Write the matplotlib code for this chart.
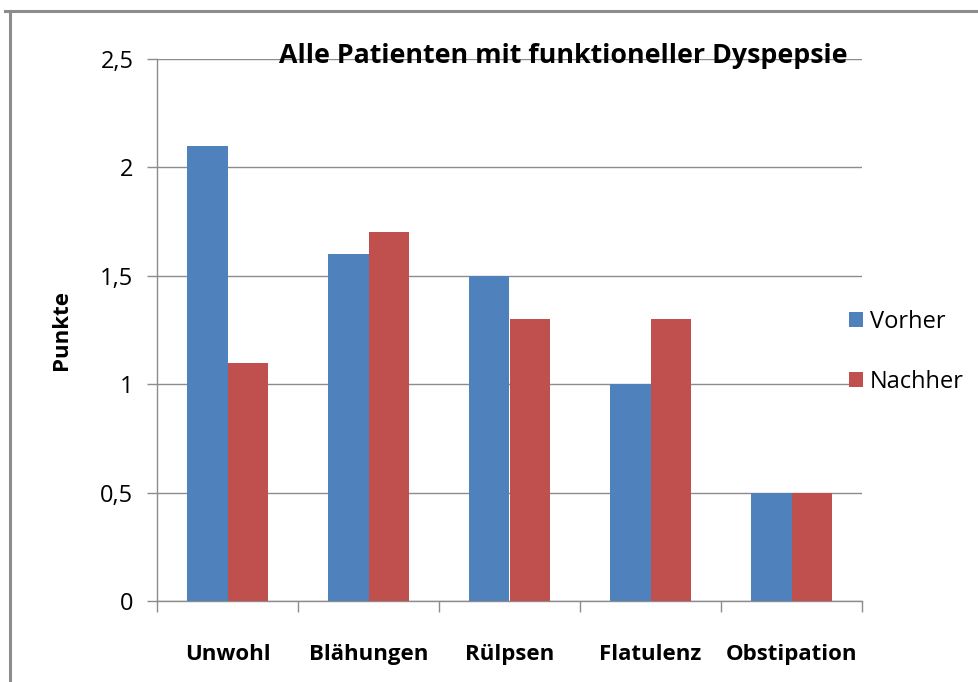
import numpy as np
import matplotlib.pyplot as plt
from matplotlib.lines import Line2D

plt.rcParams['font.family'] = ['Open Sans', 'DejaVu Sans']

categories = ["Unwohl", "Blähungen", "Rülpsen", "Flatulenz", "Obstipation"]
vorher = [2.1, 1.6, 1.5, 1.0, 0.5]
nachher = [1.1, 1.7, 1.3, 1.3, 0.5]
yticks = [0, 0.5, 1, 1.5, 2, 2.5]
ytick_labels = ["0", "0,5", "1", "1,5", "2", "2,5"]

W, H = 979, 682
fig = plt.figure(figsize=(W / 100, H / 100), dpi=100)

# plot area in pixel coordinates of the reference
left, right, top, bottom = 157, 862, 59, 601
ax = fig.add_axes([left / W, 1 - bottom / H, (right - left) / W, (bottom - top) / H])

x = np.arange(len(categories))
bw = 0.285
ax.bar(x - bw / 2, vorher, bw, color="#4F81BD", label="Vorher", zorder=3)
ax.bar(x + bw / 2, nachher, bw, color="#C0504D", label="Nachher", zorder=3)

ax.set_xlim(-0.5, len(categories) - 0.5)
ax.set_ylim(0, 2.5)
ax.set_yticks(yticks)
ax.set_yticklabels(ytick_labels, fontsize=17)
ax.yaxis.grid(True, color="#8c8c8c", linewidth=1.0, zorder=0)
ax.tick_params(axis="y", length=7, width=1.0, color="#8c8c8c", pad=10)

# category ticks at the boundaries
ax.set_xticks(np.arange(len(categories) + 1) - 0.5)
ax.set_xticklabels([])
ax.tick_params(axis="x", length=8, width=1.0, color="#8c8c8c", direction="out")
ax.set_xticks(x, minor=True)
ax.set_xticklabels(categories, minor=True, fontsize=16, fontweight="bold")
ax.tick_params(axis="x", which="minor", length=0, pad=31)

for s in ["top", "right"]:
    ax.spines[s].set_visible(False)
for s in ["left", "bottom"]:
    ax.spines[s].set_color("#8c8c8c")
    ax.spines[s].set_linewidth(1.0)

ax.set_ylabel("Punkte", fontsize=16, fontweight="bold", labelpad=20)

ax.text(563 / W, 1 - 56 / H, "Alle Patienten mit funktioneller Dyspepsie",
        transform=fig.transFigure, ha="center", va="center",
        fontsize=19.3, fontweight="bold", zorder=5)

fig.legend(loc="center left", bbox_to_anchor=(849 / W, 1 - 352 / H),
           frameon=False, fontsize=17, handlelength=0.6, handleheight=0.6,
           handletextpad=0.3, labelspacing=1.5, borderpad=0, borderaxespad=0)

# outer chart frame
fig.add_artist(Line2D([5 / W, 1], [1 - 11 / H, 1 - 11 / H], color="#8c8c8c",
                      linewidth=2.2, transform=fig.transFigure))
fig.add_artist(Line2D([10 / W, 10 / W], [0, 1 - 11 / H], color="#8c8c8c",
                      linewidth=2.2, transform=fig.transFigure))

fig.savefig("out.png", dpi=100)
